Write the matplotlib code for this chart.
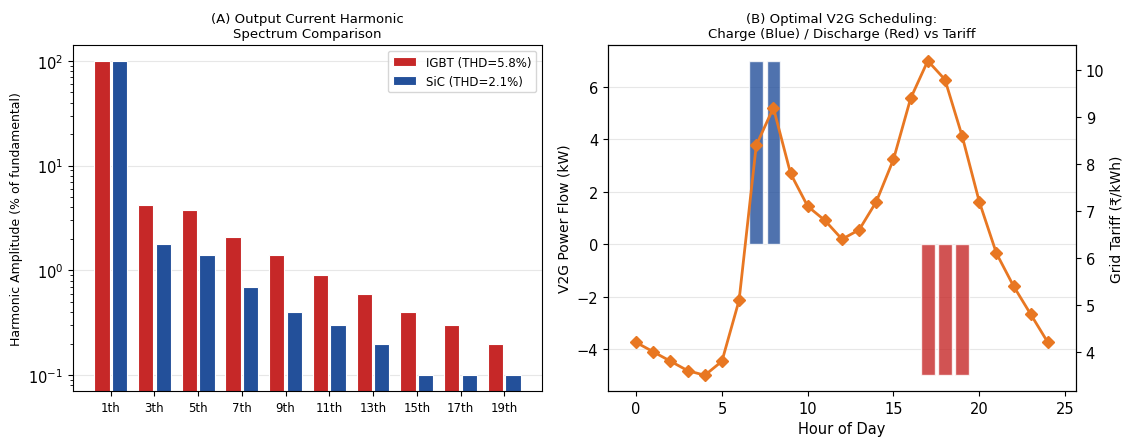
import numpy as np
import matplotlib
matplotlib.use("Agg")
import matplotlib.pyplot as plt

# Panel A data
harmonics = ['1th', '3th', '5th', '7th', '9th', '11th', '13th', '15th', '17th', '19th']
igbt = [100, 4.2, 3.8, 2.1, 1.4, 0.9, 0.6, 0.4, 0.3, 0.2]
sic = [100, 1.8, 1.4, 0.7, 0.4, 0.3, 0.2, 0.1, 0.1, 0.1]

# Panel B data
hours = list(range(25))
tariff = [4.2, 4.0, 3.8, 3.6, 3.5, 3.8, 5.1, 8.4, 9.2, 7.8, 7.1, 6.8, 6.4,
          6.6, 7.2, 8.1, 9.4, 10.2, 9.8, 8.6, 7.2, 6.1, 5.4, 4.8, 4.2]
power = [0, 0, 0, 0, 0, 0, 0, 7, 7, 0, 0, 0, 0,
         0, 0, 0, 0, -5, -5, -5, 0, 0, 0, 0, 0]

fig = plt.figure(figsize=(11.26, 4.39), dpi=100)

# (A) harmonic spectrum
ax1 = fig.add_axes([0.0648, 0.107, 0.4165, 0.788])
x = np.arange(len(harmonics))
w = 0.35
ax1.bar(x - 0.2, igbt, w, color='#c62828', edgecolor='white', linewidth=0.8,
        label='IGBT (THD=5.8%)')
ax1.bar(x + 0.2, sic, w, color='#23509a', edgecolor='white', linewidth=0.8,
        label='SiC (THD=2.1%)')
ax1.set_yscale('log')
ax1.set_xticks(x)
ax1.set_xticklabels(harmonics, fontsize=8.5)
ax1.tick_params(axis='y', labelsize=10.5)
ax1.set_ylabel('Harmonic Amplitude (% of fundamental)', fontsize=9)
ax1.set_title('(A) Output Current Harmonic\nSpectrum Comparison', fontsize=9.5)
ax1.grid(axis='y', which='major', alpha=0.3)
ax1.set_axisbelow(True)
ax1.legend(loc='upper right', fontsize=8.5)

# (B) V2G scheduling
ax2 = fig.add_axes([0.540, 0.107, 0.4156, 0.788])
bar_colors = ['#234f9a' if p > 0 else '#c62828' for p in power]
edge_widths = [1 if p != 0 else 0 for p in power]
ax2.bar(hours, power, 0.8, color=bar_colors, alpha=0.8,
        edgecolor='white', linewidth=edge_widths)
ax2.set_xlabel('Hour of Day', fontsize=10.5)
ax2.set_ylabel('V2G Power Flow (kW)', fontsize=10)
ax2.tick_params(labelsize=10.5)
ax2.grid(axis='y', alpha=0.3)
ax2.set_axisbelow(True)
ax2.set_title('(B) Optimal V2G Scheduling:\nCharge (Blue) / Discharge (Red) vs Tariff',
              fontsize=9.5)

ax3 = ax2.twinx()
ax3.plot(hours, tariff, color='#e87722', marker='D', markersize=6, linewidth=2)
ax3.set_ylabel('Grid Tariff (₹/kWh)', fontsize=10)
ax3.tick_params(labelsize=10.5)

fig.savefig('out.png', dpi=100)
